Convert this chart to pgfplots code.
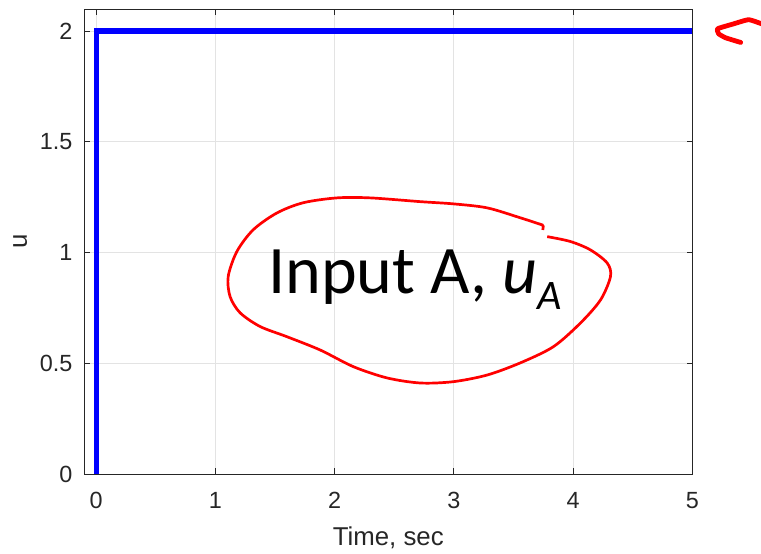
\documentclass[border=0pt]{standalone}
\usepackage{fontspec}
\setmainfont{Liberation Sans}
\newfontfamily\calibri{Carlito}
\usepackage{pgfplots}
\pgfplotsset{compat=1.18}
\definecolor{axgray}{HTML}{262626}
\definecolor{gridgray}{HTML}{E3E3E3}
\begin{document}
\begin{tikzpicture}
\begin{axis}[
  at={(0,0)}, anchor=south west,
  scale only axis, width=304pt, height=232.5pt,
  xmin=-0.1, xmax=5, ymin=0, ymax=2.1,
  xtick={0,1,2,3,4,5}, ytick={0,0.5,1,1.5,2},
  grid=major, grid style={gridgray, line width=0.5pt},
  axis line style={axgray, line width=0.5pt},
  tick style={axgray, line width=0.5pt},
  tick align=inside, major tick length=2.8pt,
  /pgf/number format/assume math mode=true,
  every tick label/.append style={font=\fontsize{11.7}{13}\selectfont, text=axgray},
  xticklabel style={yshift=-5.5pt},
  yticklabel style={xshift=-2.4pt},
  xlabel={Time, sec}, ylabel={u},
  label style={font=\fontsize{12.9}{15}\selectfont, text=axgray},
  xlabel style={at={(axis description cs:0.5,0)}, anchor=base, yshift=-35.5pt},
  ylabel style={at={(axis description cs:-0.1053,0.5)}, anchor=center},
  clip=false,
]
\addplot[blue, line width=2.67pt] coordinates {(0,0) (0,2) (5,2)};
\addplot[red, line width=1.35pt, smooth, tension=0.5] coordinates {
(3.741,1.125) (3.558,1.157) (3.279,1.202) (2.996,1.220) (2.719,1.230)
(2.299,1.247) (2.019,1.247) (1.736,1.225) (1.516,1.179) (1.317,1.103)
(1.180,1.005) (1.107,0.892) (1.123,0.801) (1.207,0.728) (1.375,0.666)
(1.600,0.620) (1.879,0.560) (2.156,0.485) (2.439,0.434) (2.719,0.411)
(2.996,0.417) (3.279,0.447) (3.558,0.502) (3.835,0.575) (4.062,0.682)
(4.230,0.786) (4.314,0.892) (4.286,0.953) (4.146,1.012) (3.978,1.050)
(3.783,1.072)};
\addplot[red, line width=1.35pt] coordinates {(3.738,1.128) (3.750,1.118) (3.746,1.102)};
\addplot[red, line width=2.4pt, smooth, tension=0.25, line cap=round, line join=round] coordinates {
(5.582,2.033) (5.473,2.052) (5.347,2.033) (5.213,2.011) (5.221,1.988) (5.280,1.970) (5.406,1.949)};
\node[anchor=base west, inner sep=0pt, font=\calibri\fontsize{34}{36}\selectfont]
  at (axis cs:1.44,0.817) {Input A, \textit{u}\raisebox{-8.3pt}{\fontsize{21}{21}\selectfont\itshape A}};
\end{axis}
\pgfresetboundingbox
\path (-42.15pt,-39.5pt) rectangle (338.35pt,237pt);
\end{tikzpicture}
\end{document}
